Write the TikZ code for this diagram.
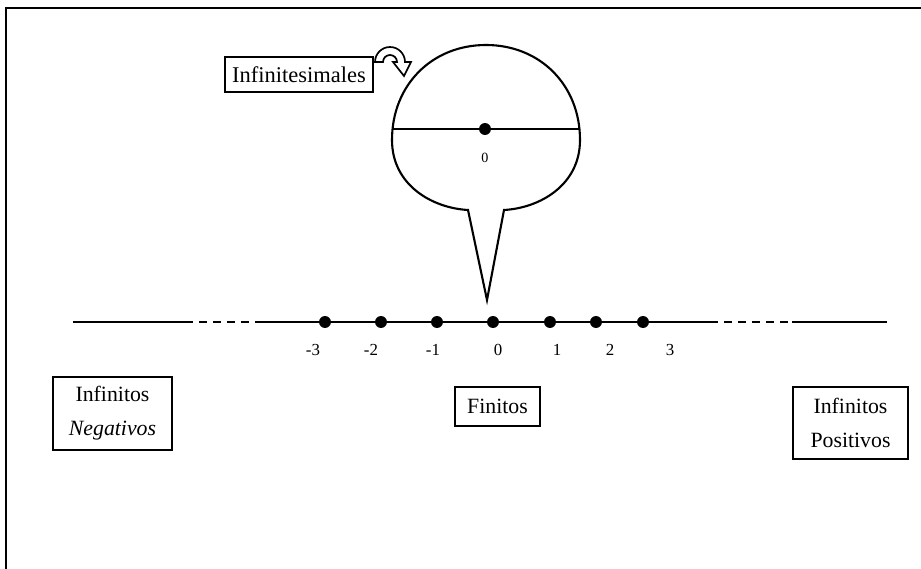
\documentclass[tikz,border=0pt]{standalone}
\usepackage{fontspec}
\setmainfont{Liberation Serif}
\usetikzlibrary{positioning, calc}

\begin{document}
\begin{tikzpicture}[
    x=0.025cm, y=-0.025cm,
    box/.style={rectangle, draw, line width=1.4pt, align=center,
                font=\fontsize{15.5}{24}\selectfont, inner sep=0pt},
    axis/.style={line width=1.5pt},
    gapline/.style={line width=1.5pt, dash pattern=on 5.5pt off 4.5pt},
    dot/.style={circle, fill, inner sep=0pt, minimum size=8.5pt},
    num/.style={font=\fontsize{12}{14}\selectfont, inner sep=0pt}
]
\useasboundingbox (0,0) rectangle (921,569);

% Frame
\draw[line width=1.5pt] (6,569) -- (6,8) -- (921,8);

% Number line
\coordinate (lend) at (73,322);
\coordinate (ldash) at (185,322);
\coordinate (lsolid) at (260,322);
\coordinate (rdash) at (710,322);
\coordinate (rsolid) at (792,322);
\coordinate (rend) at (887,322);
\draw[axis] (lend) -- (ldash);
\draw[gapline] (ldash) -- (lsolid);
\draw[axis] (lsolid) -- (rdash);
\draw[gapline] (rdash) -- (rsolid);
\draw[axis] (rsolid) -- (rend);

\foreach \name/\x in {m3/325, m2/381, m1/437, z/493, p1/550, p2/596, p3/643}
    \node[dot] (d\name) at (\x,322) {};

\node[num] (lm3) at (313,350) {-3};
\node[num] (lm2) at (371,350) {-2};
\node[num] (lm1) at (433,350) {-1};
\node[num] (lz)  at (498,350) {0};
\node[num] (lp1) at (557,350) {1};
\node[num] (lp2) at (610,350) {2};
\node[num] (lp3) at (670,350) {3};

% Zoom bubble round 0
\coordinate (tip) at (487,300);
\draw[line width=1.5pt, fill=white] (tip) -- (504,210)
    .. controls (540,208) and (580,185) .. (580,140)
    .. controls (580,85) and (540,45) .. (486,45)
    .. controls (432,45) and (392,85) .. (392,140)
    .. controls (392,185) and (432,208) .. (468,210) -- cycle;
\coordinate (zl) at (393,129);
\coordinate (zr) at (579,129);
\draw[line width=1pt] (zl) -- (zr);
\node[dot] (zdot) at (485,129) {};
\node[num, font=\fontsize{10}{12}\selectfont] (zlabel) at (485,158) {0};

% Boxes
\node[box, font=\fontsize{16}{24}\selectfont, minimum width=3.7cm, minimum height=0.875cm] (inf) at (299,74.5) {Infinitesimales};
\node[box, minimum width=2.975cm, minimum height=1.825cm] (infneg) at (112.5,413.5) {Infinitos\\\textit{Negativos}};
\node[box, minimum width=2.125cm, minimum height=0.975cm] (fin) at (497.5,406.5) {Finitos};
\node[box, minimum width=2.875cm, minimum height=1.8cm] (infpos) at (850.5,423) {Infinitos\\Positivos};

% Curved block arrow
\coordinate (arrowstart) at ($(inf.north east)+(1,6)$);
\draw[line width=1.2pt, fill=white] (arrowstart) arc[start angle=180, end angle=360, radius=15]
    -- ++(6,0) -- ++(-7,14) -- ++(-11,-14) -- ++(4,0)
    arc[start angle=360, end angle=180, radius=7] -- cycle;

\end{tikzpicture}
\end{document}
